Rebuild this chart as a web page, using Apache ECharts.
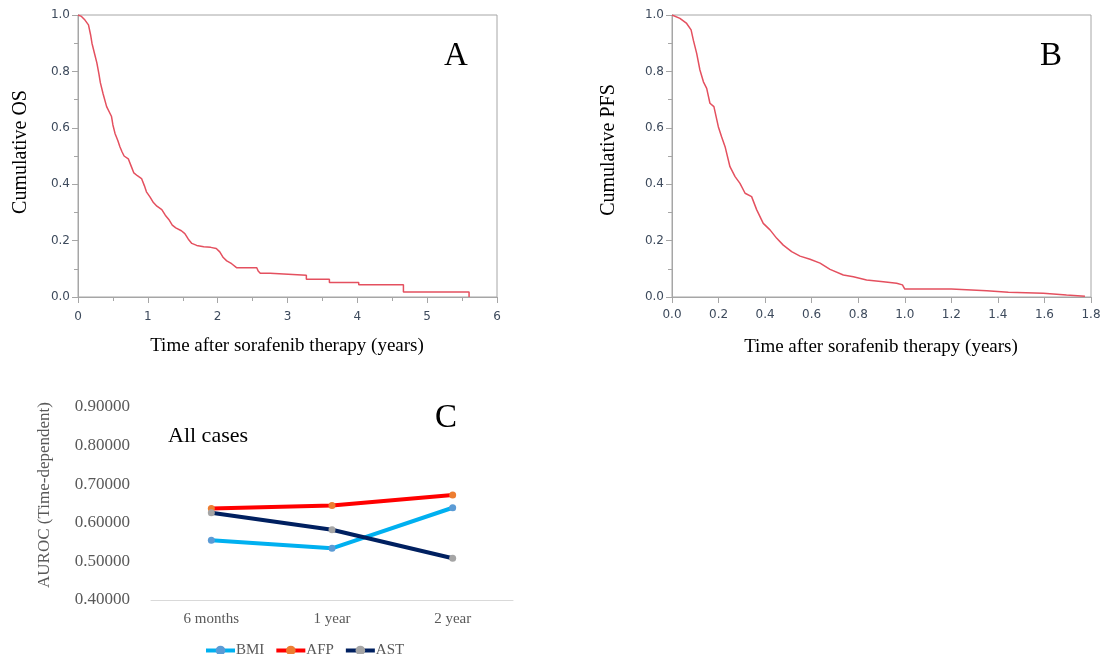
<!DOCTYPE html>
<html>
<head>
<meta charset="utf-8">
<script src="https://cdn.jsdelivr.net/npm/echarts@6/dist/echarts.min.js"></script>
<style>
html,body{margin:0;padding:0;background:#fff;}
#chart{width:1106px;height:654px;}
</style>
</head>
<body>
<div id="chart"></div>
<script>
// Panel A: overall survival (Kaplan-Meier), time in years (repeated times mark visible step corners)
var osTime = [0, 0.05, 0.1, 0.15, 0.18, 0.2, 0.24, 0.27, 0.3, 0.32, 0.36, 0.41, 0.45, 0.48, 0.5, 0.53, 0.57, 0.6, 0.63, 0.66, 0.72, 0.76, 0.8, 0.85, 0.91, 0.95, 0.98, 1.03, 1.08, 1.13, 1.2, 1.25, 1.3, 1.35, 1.4, 1.48, 1.53, 1.58, 1.63, 1.7, 1.8, 1.9, 1.98, 2.03, 2.08, 2.13, 2.2, 2.27, 2.56, 2.58, 2.61, 2.75, 2.75, 3.27, 3.27, 3.6, 3.6, 4.02, 4.02, 4.66, 4.66, 5.6, 5.6];
var osSurv = [1.0, 0.995, 0.982, 0.965, 0.93, 0.9, 0.86, 0.83, 0.79, 0.76, 0.72, 0.675, 0.655, 0.64, 0.61, 0.58, 0.555, 0.533, 0.515, 0.5, 0.49, 0.465, 0.44, 0.43, 0.42, 0.395, 0.373, 0.355, 0.335, 0.322, 0.31, 0.29, 0.275, 0.255, 0.245, 0.235, 0.225, 0.205, 0.19, 0.183, 0.178, 0.176, 0.172, 0.16, 0.14, 0.128, 0.118, 0.104, 0.104, 0.092, 0.084, 0.084, 0.077, 0.077, 0.063, 0.063, 0.051, 0.051, 0.043, 0.043, 0.018, 0.018, 0.0];

// Panel B: progression-free survival, time in years
var pfsTime = [0, 0.034, 0.063, 0.082, 0.092, 0.106, 0.12, 0.135, 0.149, 0.163, 0.18, 0.199, 0.213, 0.228, 0.249, 0.271, 0.292, 0.314, 0.342, 0.364, 0.392, 0.421, 0.45, 0.478, 0.514, 0.55, 0.593, 0.636, 0.679, 0.736, 0.779, 0.836, 0.908, 0.965, 0.99, 1.0, 1.2, 1.2, 1.352, 1.352, 1.445, 1.445, 1.595, 1.595, 1.695, 1.695, 1.774];
var pfsSurv = [1.0, 0.988, 0.97, 0.947, 0.91, 0.864, 0.805, 0.763, 0.74, 0.687, 0.675, 0.604, 0.568, 0.533, 0.462, 0.427, 0.403, 0.368, 0.356, 0.309, 0.261, 0.238, 0.208, 0.184, 0.161, 0.145, 0.134, 0.12, 0.098, 0.078, 0.072, 0.06, 0.054, 0.049, 0.043, 0.028, 0.028, 0.022, 0.022, 0.017, 0.017, 0.013, 0.013, 0.007, 0.007, 0.003, 0.003];

// Panel C: time-dependent AUROC
var cCategories = ['6 months', '1 year', '2 year'];
var bmiValues = [0.555, 0.534, 0.639];
var afpValues = [0.637, 0.645, 0.672];
var astValues = [0.626, 0.582, 0.508];
var cTicks = [0.4, 0.5, 0.6, 0.7, 0.8, 0.9];

function pairs(t, s) { return t.map(function (v, i) { return [v, s[i]]; }); }

var serif = 'Liberation Serif';
var kmAxisColor = '#a6a6a6';
var kmLabel = { color: '#3d4a5c', fontFamily: 'DejaVu Sans', fontSize: 12 };
var gray = '#595959';

var chart = echarts.init(document.getElementById('chart'));
chart.setOption({
  animation: false,
  backgroundColor: '#fff',
  grid: [
    { left: 78, top: 15, width: 419, height: 282, show: true, borderColor: kmAxisColor, borderWidth: 1 },
    { left: 672, top: 15, width: 419, height: 282, show: true, borderColor: kmAxisColor, borderWidth: 1 },
    { left: 151, top: 407, width: 362, height: 193 }
  ],
  xAxis: [
    { gridIndex: 0, type: 'value', min: 0, max: 6, interval: 1,
      axisLine: { lineStyle: { color: kmAxisColor } },
      axisTick: { show: true, length: 6, lineStyle: { color: kmAxisColor } },
      minorTick: { show: true, splitNumber: 2, length: 4, lineStyle: { color: kmAxisColor } },
      splitLine: { show: false },
      axisLabel: Object.assign({ margin: 14 }, kmLabel) },
    { gridIndex: 1, type: 'value', min: 0, max: 1.8, interval: 0.2,
      axisLine: { lineStyle: { color: kmAxisColor } },
      axisTick: { show: true, length: 6, lineStyle: { color: kmAxisColor } },
      splitLine: { show: false },
      axisLabel: Object.assign({ margin: 12, formatter: function (v) { return v.toFixed(1); } }, kmLabel) },
    { gridIndex: 2, type: 'category', data: cCategories, boundaryGap: true,
      axisLine: { show: true, lineStyle: { color: '#d9d9d9', width: 1 } },
      axisTick: { show: false },
      axisLabel: { color: gray, fontFamily: serif, fontSize: 15, margin: 12 } }
  ],
  yAxis: [
    { gridIndex: 0, type: 'value', min: 0, max: 1, interval: 0.2,
      axisLine: { show: true, lineStyle: { color: kmAxisColor } },
      axisTick: { show: true, length: 6, lineStyle: { color: kmAxisColor } },
      minorTick: { show: true, splitNumber: 2, length: 4, lineStyle: { color: kmAxisColor } },
      splitLine: { show: false },
      axisLabel: Object.assign({ margin: 8, formatter: function (v) { return v.toFixed(1); } }, kmLabel) },
    { gridIndex: 1, type: 'value', min: 0, max: 1, interval: 0.2,
      axisLine: { show: true, lineStyle: { color: kmAxisColor } },
      axisTick: { show: true, length: 6, lineStyle: { color: kmAxisColor } },
      minorTick: { show: true, splitNumber: 2, length: 4, lineStyle: { color: kmAxisColor } },
      splitLine: { show: false },
      axisLabel: Object.assign({ margin: 8, formatter: function (v) { return v.toFixed(1); } }, kmLabel) },
    { gridIndex: 2, type: 'value', min: cTicks[0], max: cTicks[cTicks.length - 1], interval: 0.1,
      axisLine: { show: false }, axisTick: { show: false }, splitLine: { show: false },
      axisLabel: { color: gray, fontFamily: serif, fontSize: 17, margin: 21,
        formatter: function (v) { return v.toFixed(5); } } }
  ],
  legend: {
    left: 199, top: 638, itemWidth: 29, itemHeight: 12, itemGap: 10,
    lineStyle: { width: 4 },
    textStyle: { color: gray, fontFamily: serif, fontSize: 15, padding: [0, 0, 0, -4] },
    data: ['BMI', 'AFP', 'AST']
  },
  series: [
    { type: 'line', xAxisIndex: 0, yAxisIndex: 0, showSymbol: false,
      data: pairs(osTime, osSurv), lineStyle: { color: '#e4505f', width: 1.5 } },
    { type: 'line', xAxisIndex: 1, yAxisIndex: 1, showSymbol: false,
      data: pairs(pfsTime, pfsSurv), lineStyle: { color: '#e4505f', width: 1.5 } },
    { name: 'BMI', type: 'line', xAxisIndex: 2, yAxisIndex: 2, data: bmiValues,
      symbol: 'circle', symbolSize: 7,
      lineStyle: { color: '#00b0f0', width: 4 }, itemStyle: { color: '#5b9bd5' } },
    { name: 'AFP', type: 'line', xAxisIndex: 2, yAxisIndex: 2, data: afpValues,
      symbol: 'circle', symbolSize: 7,
      lineStyle: { color: '#ff0000', width: 4 }, itemStyle: { color: '#ed7d31' } },
    { name: 'AST', type: 'line', xAxisIndex: 2, yAxisIndex: 2, data: astValues,
      symbol: 'circle', symbolSize: 7,
      lineStyle: { color: '#002060', width: 4 }, itemStyle: { color: '#a5a5a5' } }
  ],
  graphic: [
    { type: 'text', x: 456, y: 56, style: { text: 'A', fontFamily: serif, fontSize: 33, fill: '#000', textAlign: 'center', textVerticalAlign: 'middle' } },
    { type: 'text', x: 1051, y: 56, style: { text: 'B', fontFamily: serif, fontSize: 33, fill: '#000', textAlign: 'center', textVerticalAlign: 'middle' } },
    { type: 'text', x: 446, y: 418, style: { text: 'C', fontFamily: serif, fontSize: 33, fill: '#000', textAlign: 'center', textVerticalAlign: 'middle' } },
    { type: 'text', x: 168, y: 436, style: { text: 'All cases', fontFamily: serif, fontSize: 22, fill: '#000', textAlign: 'left', textVerticalAlign: 'middle' } },
    { type: 'text', x: 287, y: 346, style: { text: 'Time after sorafenib therapy (years)', fontFamily: serif, fontSize: 19, fill: '#000', textAlign: 'center', textVerticalAlign: 'middle' } },
    { type: 'text', x: 881, y: 347, style: { text: 'Time after sorafenib therapy (years)', fontFamily: serif, fontSize: 19, fill: '#000', textAlign: 'center', textVerticalAlign: 'middle' } },
    { type: 'text', x: 21, y: 152, rotation: Math.PI / 2, style: { text: 'Cumulative OS', fontFamily: serif, fontSize: 20, fill: '#000', textAlign: 'center', textVerticalAlign: 'middle' } },
    { type: 'text', x: 609, y: 150, rotation: Math.PI / 2, style: { text: 'Cumulative PFS', fontFamily: serif, fontSize: 20, fill: '#000', textAlign: 'center', textVerticalAlign: 'middle' } },
    { type: 'text', x: 45, y: 495, rotation: Math.PI / 2, style: { text: 'AUROC (Time-dependent)', fontFamily: serif, fontSize: 17, fill: gray, textAlign: 'center', textVerticalAlign: 'middle' } }
  ]
});
</script>
</body>
</html>
